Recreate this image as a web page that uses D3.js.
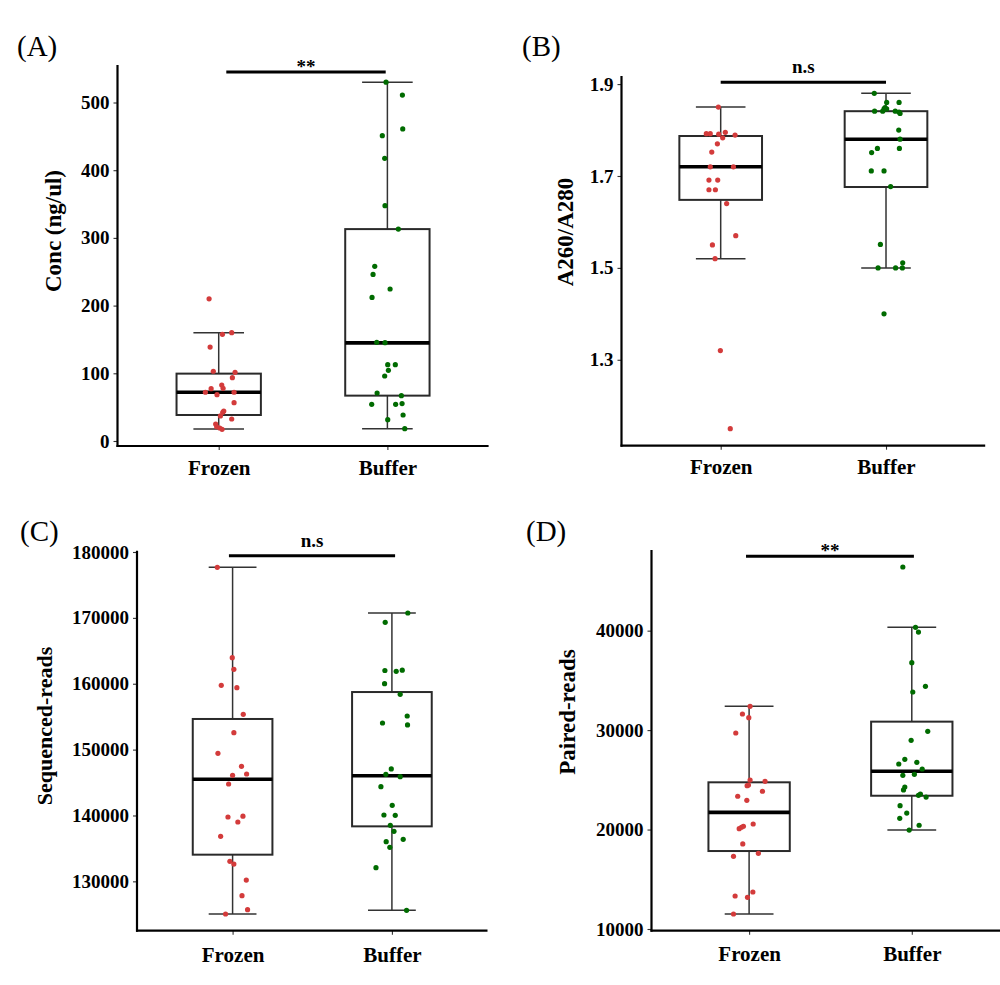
<!DOCTYPE html>
<html><head><meta charset="utf-8">
<script src="https://cdn.jsdelivr.net/npm/d3@7"></script>
<style>
body{margin:0;background:#fff}
text{font-family:"Liberation Serif","Times New Roman",serif}
</style>
</head><body>
<svg id="chart" width="1000" height="985"></svg>
<script>
// ---------------- DATA ----------------
const categories = ["Frozen", "Buffer"];

// (A) Conc (ng/ul)
const concFrozen = [210,160,157.5,138.8,103,101.4,93.5,82.7,77.8,77.3,72,72,68.4,56.6,44.3,42.4,37,32.5,25,21,19.2,17.3];
const concFrozenJitter = [-0.057,0.077,0.022,-0.051,-0.032,0.097,0.081,0.018,0.026,-0.045,-0.079,0.091,-0.010,0.091,0.030,0.024,0.010,0.077,-0.018,-0.012,0.006,0.020];
const concBuffer = [530,511,461,451,417.6,347.6,313,258,246,224.5,212,145.8,145.3,112.8,112.8,104.4,96,70.9,67,54.2,54.2,55.2,38.4,31.5,18.2];
const concBufferJitter = [-0.008,0.089,0.091,-0.030,-0.016,-0.014,0.065,-0.075,-0.085,0.016,-0.091,-0.063,-0.014,0.002,0.047,0.006,-0.016,-0.061,0.083,-0.093,0.049,0.087,0.093,0.002,0.103];
// box stats: [lower whisker, Q1, median, Q3, upper whisker]
const concFrozenBox = [17.7, 38.4, 72, 99.5, 160];
const concBufferBox = [18, 67, 145, 313, 530];
const concTicks = [0,100,200,300,400,500];

// (B) A260/A280
const ratioFrozen = [1.850,1.792,1.792,1.791,1.795,1.783,1.789,1.770,1.752,1.720,1.720,1.691,1.691,1.670,1.670,1.640,1.570,1.550,1.520,1.320,1.150];
const ratioFrozenJitter = [-0.014,-0.087,-0.063,-0.012,0.028,0.012,0.087,-0.020,-0.054,-0.063,0.077,-0.071,-0.018,-0.071,-0.032,0.036,0.091,-0.050,-0.034,-0.002,0.058];
const ratioBuffer = [1.880,1.860,1.860,1.849,1.846,1.846,1.841,1.841,1.841,1.839,1.836,1.800,1.780,1.760,1.760,1.751,1.711,1.711,1.677,1.551,1.500,1.500,1.500,1.511,1.400];
const ratioBufferJitter = [-0.071,0.004,0.079,-0.006,0.004,-0.012,-0.069,-0.020,0.056,0.079,0.085,0.077,0.085,-0.052,0.081,-0.087,-0.089,-0.012,0.028,-0.034,-0.048,0.058,0.099,0.101,-0.012];
const ratioFrozenBox = [1.52, 1.648, 1.72, 1.787, 1.85];
const ratioBufferBox = [1.50, 1.676, 1.780, 1.841, 1.88];
const ratioTicks = [1.3,1.5,1.7,1.9];

// (C) Sequenced-reads
const seqFrozen = [177670,163960,162190,159760,159400,155360,152570,149430,147460,146100,146300,144780,139770,139900,139010,136830,133040,132630,130200,127830,125700,125040];
const seqFrozenJitter = [-0.096,-0.002,0.008,-0.071,0.027,0.067,0.008,-0.092,0.056,0.000,0.088,-0.025,-0.029,0.065,0.033,-0.075,-0.017,0.008,0.086,0.059,0.094,-0.044];
const seqBuffer = [170740,169320,162010,161890,162060,160010,158390,155100,154040,153740,147060,146250,145890,144370,141540,140070,140020,138500,137590,136020,136380,135170,132080,125600];
const seqBufferJitter = [0.100,-0.042,-0.044,0.027,0.065,-0.046,0.052,0.096,-0.059,0.098,-0.004,-0.038,0.052,-0.069,0.002,-0.050,0.021,-0.010,0.013,-0.036,0.071,-0.013,-0.100,0.092];
const seqFrozenBox = [125040, 134050, 145500, 154650, 177700];
const seqBufferBox = [125600, 138350, 146030, 158740, 170740];
const seqTicks = [130000,140000,150000,160000,170000,180000];

// (D) Paired-reads
const pairFrozen = [32390,31620,31250,29710,24980,24850,24410,24480,23850,23350,22940,20560,20330,20230,20090,18550,17610,17310,13720,13320,13190,11510];
const pairFrozenJitter = [0.006,-0.041,-0.002,-0.082,0.006,0.098,-0.012,-0.004,0.082,-0.070,-0.014,0.025,-0.035,-0.047,-0.061,-0.039,0.057,-0.096,0.023,-0.086,-0.010,-0.096];
const pairBuffer = [46400,40330,39860,36780,34400,33830,29880,28970,27060,26590,26760,26090,25450,25550,24280,23980,23440,23570,23270,22400,21660,21130,20430,19950];
const pairBufferJitter = [-0.055,0.023,0.041,0.000,0.084,0.006,0.098,-0.004,-0.043,-0.080,0.031,0.064,-0.055,0.016,-0.043,-0.051,0.041,0.053,0.088,-0.072,-0.031,-0.074,0.045,-0.016];
const pairFrozenBox = [11500, 17840, 21730, 24750, 32390];
const pairBufferBox = [19950, 23400, 25860, 30850, 40330];
const pairTicks = [10000,20000,30000,40000];

// significance annotations: [label, y value, x start, x end (category units)]
const sigA = ["**", 545, 1.045, 1.99];
const sigB = ["n.s", 1.904, 1.0, 2.0];
const sigC = ["n.s", 179440, 0.977, 2.02];
const sigD = ["**", 47480, 0.981, 2.013];

// ---------------- DRAW ----------------
const svg = d3.select("#chart");
const RED = "#d33b3b", GREEN = "#006b00";

function panel(cfg) {
  const g = svg.append("g");
  const x = d3.scaleLinear().domain([0.4, 2.6]).range([cfg.x0, cfg.x1]);
  const y = d3.scaleLinear().domain(cfg.domain).range([cfg.yBottom, cfg.yTop]);
  const unit = x(2) - x(1);

  // boxes
  cfg.groups.forEach((grp, i) => {
    const cx = x(i + 1);
    const [lo, q1, med, q3, hi] = grp.box;
    const bw = unit * 0.5, cw = unit * 0.3;
    const seg = (x1, x2, y1, y2) => g.append("line").attr("x1", x1).attr("x2", x2).attr("y1", y1).attr("y2", y2)
      .attr("stroke", "#333").attr("stroke-width", 1.5);
    seg(cx, cx, y(hi), y(q3));
    seg(cx, cx, y(q1), y(lo));
    seg(cx - cw/2, cx + cw/2, y(hi), y(hi));
    seg(cx - cw/2, cx + cw/2, y(lo), y(lo));
    g.append("rect").attr("x", cx - bw/2).attr("width", bw)
      .attr("y", y(q3)).attr("height", y(q1) - y(q3))
      .attr("fill", "#fff").attr("stroke", "#2a2a2a").attr("stroke-width", 2);
    g.append("line").attr("x1", cx - bw/2).attr("x2", cx + bw/2).attr("y1", y(med)).attr("y2", y(med))
      .attr("stroke", "#000").attr("stroke-width", 3.6);
  });

  // points
  cfg.groups.forEach((grp, i) => {
    g.selectAll(null).data(grp.values.map((v, k) => ({v, j: grp.jitter[k]})))
      .enter().append("circle")
      .attr("cx", d => x(i + 1 + d.j)).attr("cy", d => y(d.v))
      .attr("r", 2.6).attr("fill", grp.color);
  });

  // axes
  const yAxis = d3.axisLeft(y).tickValues(cfg.ticks).tickSize(4).tickPadding(4).tickFormat(cfg.fmt);
  const ya = g.append("g").attr("transform", `translate(${cfg.x0},0)`).call(yAxis);
  ya.select(".domain").remove();
  ya.selectAll(".tick line").attr("stroke", "#333").attr("stroke-width", 1.1);
  ya.selectAll(".tick text").attr("font-size", 19).attr("font-weight", "bold").attr("fill", "#000")
    .style("font-family", '"Liberation Serif",serif');

  const xAxis = d3.axisBottom(x).tickValues([1, 2]).tickSize(4).tickFormat(d => categories[d - 1]);
  const xa = g.append("g").attr("transform", `translate(0,${cfg.yBottom})`).call(xAxis);
  xa.select(".domain").remove();
  xa.selectAll(".tick line").attr("stroke", "#333").attr("stroke-width", 1.1);
  xa.selectAll(".tick text").attr("font-size", 21).attr("font-weight", "bold").attr("fill", "#000")
    .attr("y", cfg.xLabelDy).attr("dy", 0)
    .style("font-family", '"Liberation Serif",serif');

  // axis lines
  g.append("line").attr("x1", cfg.x0).attr("x2", cfg.x0).attr("y1", cfg.yTop).attr("y2", cfg.yBottom + 1)
    .attr("stroke", "#000").attr("stroke-width", 2.2);
  g.append("line").attr("x1", cfg.x0 - 1).attr("x2", cfg.x1).attr("y1", cfg.yBottom).attr("y2", cfg.yBottom)
    .attr("stroke", "#000").attr("stroke-width", 2.2);

  // significance
  const [lab, sv, s0, s1] = cfg.sig;
  g.append("line").attr("x1", x(s0)).attr("x2", x(s1)).attr("y1", y(sv)).attr("y2", y(sv))
    .attr("stroke", "#000").attr("stroke-width", 3);
  g.append("text").attr("x", (x(s0) + x(s1)) / 2).attr("y", y(sv) + (lab === "**" ? 1 : -9))
    .attr("text-anchor", "middle").attr("font-size", 19).attr("font-weight", "bold").text(lab);

  // y title
  g.append("text").attr("transform", `translate(${cfg.titleX},${cfg.titleY}) rotate(-90)`)
    .attr("text-anchor", "middle").attr("font-size", cfg.titleSize).attr("font-weight", "bold").text(cfg.title);

  // panel letter
  g.append("text").attr("x", cfg.letterX).attr("y", cfg.letterY).attr("font-size", 29).text(cfg.letter);
}

panel({
  letter: "(A)", letterX: 17, letterY: 56,
  x0: 117.5, x1: 488.6, yTop: 65, yBottom: 446, domain: [-7.4, 555.4],
  ticks: concTicks, fmt: d3.format("d"), xLabelDy: 29,
  title: "Conc (ng/ul)", titleX: 61, titleY: 231, titleSize: 23,
  sig: sigA,
  groups: [
    {values: concFrozen, jitter: concFrozenJitter, box: concFrozenBox, color: RED},
    {values: concBuffer, jitter: concBufferJitter, box: concBufferBox, color: GREEN}
  ]
});
panel({
  letter: "(B)", letterX: 522, letterY: 56,
  x0: 621.5, x1: 985.2, yTop: 76, yBottom: 445.7, domain: [1.113, 1.9176],
  ticks: ratioTicks, fmt: d3.format(".1f"), xLabelDy: 28,
  title: "A260/A280", titleX: 573, titleY: 232, titleSize: 23,
  sig: sigB,
  groups: [
    {values: ratioFrozen, jitter: ratioFrozenJitter, box: ratioFrozenBox, color: RED},
    {values: ratioBuffer, jitter: ratioBufferJitter, box: ratioBufferBox, color: GREEN}
  ]
});
panel({
  letter: "(C)", letterX: 20, letterY: 541,
  x0: 137, x1: 487.5, yTop: 550.7, yBottom: 930.7, domain: [122508, 180197],
  ticks: seqTicks, fmt: d3.format("d"), xLabelDy: 31,
  title: "Sequenced-reads", titleX: 52, titleY: 726, titleSize: 22,
  sig: sigC,
  groups: [
    {values: seqFrozen, jitter: seqFrozenJitter, box: seqFrozenBox, color: RED},
    {values: seqBuffer, jitter: seqBufferJitter, box: seqBufferBox, color: GREEN}
  ]
});
panel({
  letter: "(D)", letterX: 526, letterY: 541,
  x0: 651.5, x1: 1009.4, yTop: 550, yBottom: 930.7, domain: [9829, 48110],
  ticks: pairTicks, fmt: d3.format("d"), xLabelDy: 30,
  title: "Paired-reads", titleX: 575, titleY: 712, titleSize: 23,
  sig: sigD,
  groups: [
    {values: pairFrozen, jitter: pairFrozenJitter, box: pairFrozenBox, color: RED},
    {values: pairBuffer, jitter: pairBufferJitter, box: pairBufferBox, color: GREEN}
  ]
});
</script>
</body></html>
